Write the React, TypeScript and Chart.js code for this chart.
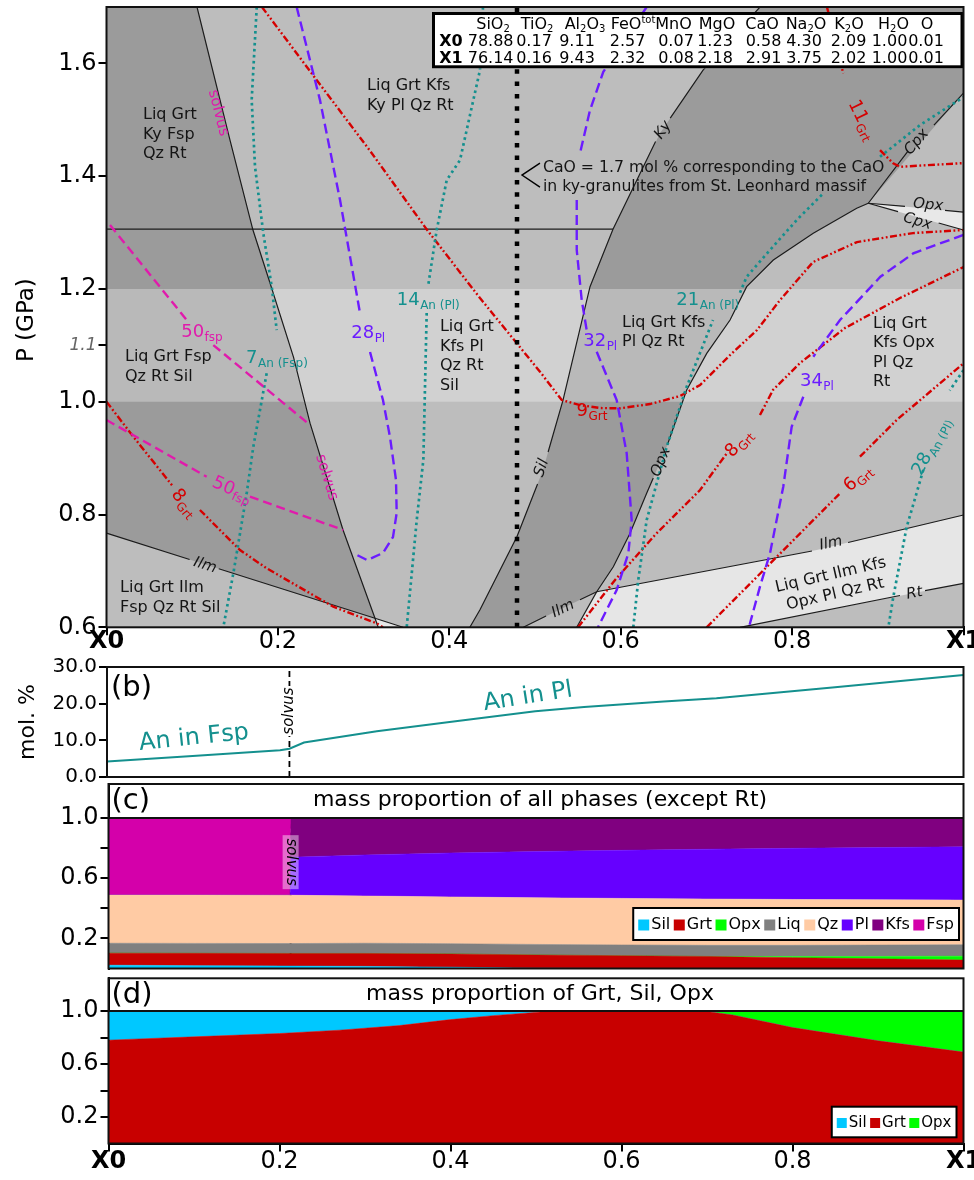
import React, { useEffect, useRef } from "react";
import { Chart, registerables } from "chart.js";

Chart.register(...registerables);

const FONT = "'DejaVu Sans', Verdana, sans-serif";
Chart.defaults.font.family = FONT;
Chart.defaults.color = "#000";

type Pt = [number, number] | null;

// ---------------- (a) P–X pseudosection: x = X0 → X1, y = P (GPa) ----------------
const pressureTicks = [0.6, 0.8, 1.0, 1.1, 1.2, 1.4, 1.6];
const compositionTicks = [0, 0.2, 0.4, 0.6, 0.8, 1];

// stability fields
const diagramField: Pt[] = [[0, 0.6], [1, 0.6], [1, 1.7], [0, 1.7]];
const fspFieldDark: Pt[] = [
  [0, 1.7], [0.1056, 1.7], [0.1441, 1.464], [0.1709, 1.3045], [0.1908, 1.2105],
  [0.2182, 1.079], [0.2375, 0.962], [0.276, 0.7725], [0.3133, 0.616], [0, 0.767],
];
const kySilFieldDark: Pt[] = [
  [0.7625, 1.7], [1, 1.7], [1, 1.5473], [0.8889, 1.352], [0.8754, 1.343], [0.8247, 1.2986],
  [0.7781, 1.2512], [0.747, 1.204], [0.7276, 1.1449], [0.7004, 1.0858], [0.677, 1.0208],
  [0.6537, 0.92], [0.6303, 0.8376], [0.6109, 0.7667], [0.5914, 0.7074], [0.572, 0.6631],
  [0.4864, 0.6], [0.424, 0.6], [0.4358, 0.631], [0.479, 0.761], [0.5093, 0.879],
  [0.5327, 1.003], [0.5642, 1.204], [0.591, 1.306], [0.6459, 1.476], [0.6961, 1.588],
];
const ilmOpxField: Pt[] = [
  [0.572, 0.6631], [0.8287, 0.737], [1, 0.7991], [1, 0.678], [0.7392, 0.6], [0.5487, 0.6],
];
const opxCpxField: Pt[] = [[0.8889, 1.352], [1, 1.3363], [1, 1.3045]];
const ilmNotchField: Pt[] = [[0.3133, 0.616], [0.346, 0.6], [0.317, 0.6]];
const pressureBand: Pt[] = [[0, 1.0], [1, 1.0], [1, 1.2], [0, 1.2]];

// field boundaries (null = break for a label)
const solvusLine: Pt[] = [
  [0.1056, 1.7], [0.1441, 1.464], [0.1709, 1.3045], [0.1908, 1.2105], [0.2182, 1.079],
  [0.2375, 0.962], [0.276, 0.7725], [0.3133, 0.616], [0.317, 0.6],
];
const ilmWestLine: Pt[] = [[0, 0.767], [0.097, 0.7203], null, [0.131, 0.7039], [0.3133, 0.616], [0.346, 0.6]];
const kySilTransition: Pt[] = [[0, 1.306], [0.591, 1.306]];
const kySilLine: Pt[] = [
  [0.7625, 1.7], [0.6961, 1.588], [0.6578, 1.503], null, [0.6407, 1.4613], [0.591, 1.306],
  [0.5642, 1.204], [0.5327, 1.003], [0.5153, 0.9109], null, [0.503, 0.8541], [0.479, 0.761],
  [0.4358, 0.631], [0.424, 0.6],
];
const opxLine: Pt[] = [
  [0.8889, 1.352], [0.8754, 1.343], [0.8247, 1.2986], [0.7781, 1.2512], [0.747, 1.204],
  [0.7276, 1.1449], [0.7004, 1.0858], [0.677, 1.0208], [0.6544, 0.9232], null, [0.638, 0.8647],
  [0.6303, 0.8376], [0.6109, 0.7667], [0.5914, 0.7074], [0.572, 0.6631],
];
const cpxLine: Pt[] = [[1, 1.5473], [0.9655, 1.4906], null, [0.9352, 1.4445], [0.8889, 1.352]];
const opxWedgeLine: Pt[] = [[0.8889, 1.352], [0.9317, 1.3466], null, [0.9784, 1.3394], [1, 1.3363]];
const cpxWedgeLine: Pt[] = [[0.8889, 1.352], [0.9236, 1.337], null, [0.971, 1.317], [1, 1.3045]];
const ilmEastLine: Pt[] = [
  [0.4864, 0.6], [0.5129, 0.62], null, [0.5525, 0.649], [0.572, 0.6631], [0.8232, 0.7353],
  null, [0.8653, 0.7504], [1, 0.7991],
];
const opxFootLine: Pt[] = [[0.5487, 0.6], [0.572, 0.6631]];
const rtLine: Pt[] = [[0.7392, 0.6], [0.9259, 0.6564], null, [0.9551, 0.6649], [1, 0.678]];

// isopleths
const fsp50Upper: Pt[] = [[0.0041, 1.3133], [0.0936, 1.1449], null, [0.1246, 1.1005], [0.2375, 0.9587]];
const fsp50Lower: Pt[] = [[0, 0.9676], [0.1169, 0.867], null, [0.1674, 0.8316], [0.2763, 0.7725]];
const an7: Pt[] = [
  [0.1753, 1.7], [0.1694, 1.5349], [0.1733, 1.4167], [0.183, 1.2986], [0.1928, 1.2039],
  [0.1986, 1.1271], null, [0.1869, 1.0504], [0.1713, 0.9202], [0.1636, 0.8376], [0.148, 0.6957], [0.1363, 0.6],
];
const an14: Pt[] = [
  [0.4393, 1.7], [0.4358, 1.5881], [0.4125, 1.4285], [0.397, 1.393], [0.3853, 1.3045],
  [0.3751, 1.2034], null, [0.3736, 1.1573], [0.3697, 0.8966], [0.362, 0.7902], [0.3503, 0.6],
];
const an21: Pt[] = [
  [0.6147, 0.6], [0.6205, 0.6839], [0.6303, 0.7902], [0.6537, 0.9202], [0.677, 1.0266],
  [0.7077, 1.1449], null, [0.7392, 1.1933], [0.747, 1.2216], [0.7742, 1.269], [0.8054, 1.3222],
  [0.8364, 1.3695], null, [0.9026, 1.4344], [0.9492, 1.4906], [1, 1.5402],
];
const an28: Pt[] = [[1, 1.056], [0.984, 1.02], null, [0.9531, 0.879], [0.9337, 0.778], [0.9181, 0.654], [0.9123, 0.6]];
const pl28: Pt[] = [
  [0.2219, 1.7], [0.2491, 1.5349], [0.2725, 1.3576], [0.2958, 1.1573], null, [0.3075, 1.0881],
  [0.3226, 1.003], [0.3308, 0.9374], [0.3378, 0.8612], [0.3386, 0.8027], [0.3343, 0.7601],
  [0.3226, 0.7317], [0.304, 0.7193], [0.2876, 0.7317],
];
const pl32: Pt[] = [
  [0.6303, 1.7], [0.5797, 1.585], [0.5642, 1.5172], [0.5525, 1.4404], null, [0.5487, 1.3576],
  [0.5487, 1.269], [0.5545, 1.1803], [0.5603, 1.1271], null, [0.572, 1.0887], [0.5953, 1.003],
  [0.607, 0.9085], [0.6128, 0.7902], [0.6089, 0.7312], [0.5953, 0.6661], [0.5758, 0.6071], [0.5735, 0.6],
];
const pl34: Pt[] = [
  [1, 1.296], [0.9414, 1.2631], [0.903, 1.2216], [0.8559, 1.1449], [0.8247, 1.0798], null,
  [0.8131, 1.0089], [0.7995, 0.9557], [0.7897, 0.8493], [0.7742, 0.7312], [0.7625, 0.672],
  [0.7509, 0.6071], [0.7497, 0.6],
];
const grt9: Pt[] = [
  [0.1814, 1.7], [0.2336, 1.594], [0.3075, 1.445], [0.3736, 1.3057], [0.4358, 1.1839],
  [0.5058, 1.0532], [0.5312, 1.003], [0.5525, 0.9941], [0.5758, 0.9888], [0.5992, 0.9883],
  [0.6342, 0.9959], [0.6692, 1.0101], [0.6926, 1.0296], [0.7276, 1.0828], [0.759, 1.1271],
  [0.7859, 1.1803], [0.8244, 1.2477], [0.8757, 1.2832], [0.9411, 1.2991], [1, 1.3045],
];
const grt8West: Pt[] = [
  [0, 1.0], [0.0313, 0.938], [0.078, 0.849], null, [0.109, 0.808], [0.1558, 0.737],
  [0.1869, 0.7046], [0.2647, 0.6365], [0.3153, 0.607], [0.3226, 0.6],
];
const grt8East: Pt[] = [
  [0.5502, 0.6], [0.5934, 0.6839], [0.64, 0.7637], [0.6926, 0.8435], [0.724, 0.909], null,
  [0.7625, 0.9764], [0.7777, 1.0208], [0.8092, 1.0686], [0.8617, 1.1307], [0.9259, 1.1839], [1, 1.2388],
];
const grt6: Pt[] = [[0.7003, 0.6], [0.8559, 0.8376], null, [0.8792, 0.9025], [0.922, 0.9676], [1, 1.068]];
const grt11: Pt[] = [
  [0.8407, 1.7], [0.8597, 1.5823], null, [0.9026, 1.4463], [0.918, 1.4227], [0.9259, 1.4167], [1, 1.4232],
];
const caoSection: Pt[] = [[0.479, 0.6], [0.479, 1.7]];
const caoPointer: Pt[] = [[0.5058, 1.4232], [0.4848, 1.402], [0.5058, 1.3807]];

// labels of panel (a)
const fieldNames = [
  { lines: ["Liq Grt", "Ky Fsp", "Qz Rt"], x: 0.0426, y: 1.5083 },
  { lines: ["Liq Grt Kfs", "Ky Pl Qz Rt"], x: 0.304, y: 1.56 },
  { lines: ["Liq Grt Fsp", "Qz Rt Sil"], x: 0.0216, y: 1.0793 },
  { lines: ["Liq Grt", "Kfs Pl", "Qz Rt", "Sil"], x: 0.3891, y: 1.1324 },
  { lines: ["Liq Grt Kfs", "Pl Qz Rt"], x: 0.6015, y: 1.1404 },
  { lines: ["Liq Grt", "Kfs Opx", "Pl Qz", "Rt"], x: 0.8944, y: 1.1387 },
  { lines: ["Liq Grt Ilm", "Fsp Qz Rt Sil"], x: 0.0158, y: 0.6697 },
];
const tiltedFieldName = { lines: ["Liq Grt Ilm Kfs", "Opx Pl Qz Rt"], x: 0.8477, y: 0.6755, rot: -13 };
const boundaryNames = [
  { t: "Ky", x: 0.6494, y: 1.4817, rot: -56 },
  { t: "Sil", x: 0.5078, y: 0.8825, rot: -71 },
  { t: "Opx", x: 0.647, y: 0.893, rot: -68 },
  { t: "Ilm", x: 0.1149, y: 0.7096, rot: 17.6 },
  { t: "Ilm", x: 0.5327, y: 0.6324, rot: -25.6 },
  { t: "Ilm", x: 0.8454, y: 0.7486, rot: -12 },
  { t: "Rt", x: 0.9428, y: 0.66, rot: -11 },
  { t: "Cpx", x: 0.9454, y: 1.4605, rot: -49 },
  { t: "Opx", x: 0.9586, y: 1.3488, rot: 5 },
  { t: "Cpx", x: 0.9463, y: 1.3195, rot: 16 },
];
const RED = "#d50000";
const PURPLE = "#6b1cff";
const TEAL = "#14908e";
const MAGENTA = "#e01bac";
const isoNames = [
  { main: "50", sub: "fsp", x: 0.1111, y: 1.1236, rot: 0, color: MAGENTA },
  { main: "50", sub: "fsp", x: 0.1461, y: 0.8434, rot: 24, color: MAGENTA },
  { main: "7", sub: "An (Fsp)", x: 0.1986, y: 1.0775, rot: 0, color: TEAL },
  { main: "28", sub: "Pl", x: 0.3051, y: 1.1218, rot: 0, color: PURPLE },
  { main: "14", sub: "An (Pl)", x: 0.3751, y: 1.1803, rot: 0, color: TEAL },
  { main: "32", sub: "Pl", x: 0.5758, y: 1.1064, rot: 0, color: PURPLE },
  { main: "21", sub: "An (Pl)", x: 0.7013, y: 1.1803, rot: 0, color: TEAL },
  { main: "9", sub: "Grt", x: 0.5662, y: 0.9823, rot: 0, color: RED },
  { main: "8", sub: "Grt", x: 0.738, y: 0.9259, rot: -48, color: RED },
  { main: "6", sub: "Grt", x: 0.8769, y: 0.8638, rot: -42, color: RED },
  { main: "34", sub: "Pl", x: 0.8287, y: 1.0358, rot: 0, color: PURPLE },
  { main: "28", sub: "An (Pl)", x: 0.9629, y: 0.9206, rot: -62, color: TEAL },
  { main: "11", sub: "Grt", x: 0.8812, y: 1.4995, rot: 64, color: RED },
  { main: "8", sub: "Grt", x: 0.0904, y: 0.8204, rot: 50, color: RED },
];
const solvusNames = [
  { x: 0.1305, y: 1.512, rot: 76 },
  { x: 0.2569, y: 0.8656, rot: 73 },
];
const caoNote = ["CaO = 1.7 mol % corresponding to the CaO", "in ky-granulites from St. Leonhard massif"];

// bulk compositions
const oxides = ["SiO_2", "TiO_2", "Al_2O_3", "FeO^tot", "MnO", "MgO", "CaO", "Na_2O", "K_2O", "H_2O", "O"];
const bulkX0 = [78.88, 0.17, 9.11, 2.57, 0.07, 1.23, 0.58, 4.3, 2.09, 1.0, 0.01];
const bulkX1 = [76.14, 0.16, 9.43, 2.32, 0.08, 2.18, 2.91, 3.75, 2.02, 1.0, 0.01];

// ---------------- (b) An content ----------------
const anX = [0, 0.1, 0.202, 0.213, 0.23, 0.315, 0.4, 0.5, 0.557, 0.65, 0.7115, 0.85, 1];
const anMol = [4.2, 5.7, 7.3, 7.7, 9.4, 12.5, 15.0, 17.9, 19.1, 20.6, 21.5, 24.5, 27.8];
const molTicks = [0, 5, 10, 15, 20, 25, 30];
const solvusX = 0.213;

// ---------------- (c) mass proportion of all phases ----------------
const phaseX = [0, 0.1, 0.2125, 0.2135, 0.3, 0.4, 0.5, 0.6, 0.7, 0.8, 0.9, 1];
const silAll = [0.022, 0.019, 0.016, 0.016, 0.014, 0.009, 0.002, 0, 0, 0, 0, 0];
const grtAll = [0.08, 0.082, 0.084, 0.084, 0.086, 0.088, 0.088, 0.085, 0.08, 0.072, 0.064, 0.056];
const opxAll = [0, 0, 0, 0, 0, 0, 0, 0, 0, 0.007, 0.016, 0.026];
const liqAll = [0.066, 0.066, 0.066, 0.066, 0.068, 0.068, 0.07, 0.072, 0.074, 0.075, 0.076, 0.076];
const qzAll = [0.32, 0.321, 0.321, 0.321, 0.314, 0.311, 0.31, 0.309, 0.308, 0.305, 0.301, 0.297];
const plAll = [0, 0, 0, 0.253, 0.273, 0.292, 0.308, 0.32, 0.331, 0.34, 0.347, 0.354];
const kfsAll = [0, 0, 0, 0.26, 0.245, 0.232, 0.222, 0.214, 0.207, 0.201, 0.196, 0.191];
const fspAll = [0.512, 0.512, 0.513, 0, 0, 0, 0, 0, 0, 0, 0, 0];
const fractionTicks = [0.2, 0.4, 0.6, 0.8, 1.0];
const fractionLabels = [0.2, 0.6, 1.0];

// ---------------- (d) mass proportion of Grt, Sil, Opx ----------------
const gsoX = [0, 0.1, 0.2, 0.27, 0.34, 0.4, 0.45, 0.52, 0.6, 0.695, 0.73, 0.8, 0.9, 1];
const grtRel = [0.78, 0.805, 0.83, 0.855, 0.89, 0.935, 0.965, 1, 1, 1, 0.97, 0.875, 0.775, 0.69];
const silRel = [0.22, 0.195, 0.17, 0.145, 0.11, 0.065, 0.035, 0, 0, 0, 0, 0, 0, 0];
const opxRel = [0, 0, 0, 0, 0, 0, 0, 0, 0, 0, 0.03, 0.125, 0.225, 0.31];

const PHASE_COLORS: Record<string, string> = {
  Sil: "#00c8ff", Grt: "#c80000", Opx: "#00ff00", Liq: "#808080",
  Qz: "#ffcba4", Pl: "#6600ff", Kfs: "#800080", Fsp: "#d400aa",
};

// ---------------- helpers ----------------
const mk = (pts: Pt[]) => pts.map((p) => (p ? { x: p[0], y: p[1] } : { x: null, y: null }));
const xy = (xs: number[], ys: number[]) => xs.map((x, i) => ({ x, y: ys[i] }));

const fieldDs = (pts: Pt[], color: string, order: number) => ({
  data: mk(pts), fill: "shape", backgroundColor: color, borderColor: "transparent",
  borderWidth: 0, pointRadius: 0, order,
});
const edgeDs = (pts: Pt[]) => ({
  data: mk(pts), fill: false, borderColor: "#1c1c1c", borderWidth: 1.2, pointRadius: 0, order: 5,
});
const isoDs = (pts: Pt[], color: string, dash: number[], width = 2.4) => ({
  data: mk(pts), fill: false, borderColor: color, borderWidth: width, borderDash: dash,
  borderCapStyle: "butt", pointRadius: 0, order: 3,
});

const deg = (d: number) => (d * Math.PI) / 180;

function rotatedText(ctx: any, text: string, x: number, y: number, rot: number, font: string, color: string) {
  ctx.save();
  ctx.translate(x, y);
  ctx.rotate(deg(rot));
  ctx.font = font;
  ctx.fillStyle = color;
  ctx.textAlign = "center";
  ctx.textBaseline = "middle";
  ctx.fillText(text, 0, 0);
  ctx.restore();
}

function isoText(ctx: any, x: number, y: number, main: string, sub: string, color: string, rot: number) {
  ctx.save();
  ctx.translate(x, y);
  ctx.rotate(deg(rot));
  ctx.fillStyle = color;
  ctx.textBaseline = "middle";
  ctx.textAlign = "left";
  ctx.font = `18px ${FONT}`;
  const w1 = ctx.measureText(main).width;
  ctx.font = `12px ${FONT}`;
  const w2 = ctx.measureText(sub).width;
  const start = -(w1 + w2) / 2;
  ctx.font = `18px ${FONT}`;
  ctx.fillText(main, start, 0);
  ctx.font = `12px ${FONT}`;
  ctx.fillText(sub, start + w1 + 0.5, 5.5);
  ctx.restore();
}

function chemParts(s: string) {
  const out: [string, number][] = [];
  const re = /_(\d+)|\^([a-z]+)|([^_^]+)/g;
  let m: any;
  while ((m = re.exec(s))) {
    if (m[1]) out.push([m[1], 1]);
    else if (m[2]) out.push([m[2], 2]);
    else out.push([m[3], 0]);
  }
  return out;
}

function chemText(ctx: any, s: string, cx: number, cy: number, size: number) {
  const parts = chemParts(s);
  const small = Math.round(size * 0.62);
  let total = 0;
  const widths = parts.map(([t, k]) => {
    ctx.font = `${k ? small : size}px ${FONT}`;
    const w = ctx.measureText(t).width;
    total += w;
    return w;
  });
  let x = cx - total / 2;
  parts.forEach(([t, k], i) => {
    ctx.font = `${k ? small : size}px ${FONT}`;
    ctx.fillText(t, x, cy + (k === 1 ? size * 0.3 : k === 2 ? -size * 0.3 : 0));
    x += widths[i];
  });
}

function drawLegend(ctx: any, names: string[], right: number, cy: number, size: number, sq: number, h: number) {
  ctx.save();
  ctx.font = `${size}px ${FONT}`;
  const gapSq = 2, gapItem = 3.5, pad = 5;
  let total = 0;
  const ws = names.map((n) => ctx.measureText(n).width);
  names.forEach((_, i) => (total += sq + gapSq + ws[i] + gapItem));
  total -= gapItem;
  const left = right - total - 2 * pad;
  ctx.fillStyle = "#fff";
  ctx.fillRect(left, cy - h / 2, total + 2 * pad, h);
  ctx.strokeStyle = "#000";
  ctx.lineWidth = 2;
  ctx.strokeRect(left, cy - h / 2, total + 2 * pad, h);
  let x = left + pad;
  ctx.textBaseline = "middle";
  ctx.textAlign = "left";
  names.forEach((n, i) => {
    ctx.fillStyle = PHASE_COLORS[n];
    ctx.fillRect(x, cy - sq / 2 + 1, sq, sq);
    x += sq + gapSq;
    ctx.fillStyle = "#000";
    ctx.fillText(n, x, cy + 1);
    x += ws[i] + gapItem;
  });
  ctx.restore();
}

function frame(ctx: any, a: any) {
  ctx.save();
  ctx.strokeStyle = "#111";
  ctx.lineWidth = 2;
  ctx.strokeRect(a.left, a.top, a.right - a.left, a.bottom - a.top);
  ctx.restore();
}

const axisBase = {
  grid: { drawOnChartArea: false, color: "#000", lineWidth: 2, tickLength: 8 },
  border: { color: "#000", width: 2 },
};

const xCompositionAxis = (height: number, padding: number) => ({
  type: "linear", min: 0, max: 1, ...axisBase,
  afterBuildTicks: (s: any) => { s.ticks = compositionTicks.map((v) => ({ value: v })); },
  afterFit: (s: any) => { s.height = height; s.paddingLeft = 0; s.paddingRight = 0; },
  ticks: {
    autoSkip: false, maxRotation: 0, minRotation: 0, padding, color: "#000",
    font: (c: any) => ({
      size: 24, family: FONT,
      weight: c.tick && (c.tick.value === 0 || c.tick.value === 1) ? "bold" : "normal",
    }),
    callback: (v: any) => (v === 0 ? "X0" : v === 1 ? "X1" : Number(v).toFixed(1)),
  },
});

const baseOptions = (padding: any) => ({
  animation: false, responsive: false, maintainAspectRatio: false,
  layout: { padding, autoPadding: false },
  plugins: { legend: { display: false }, tooltip: { enabled: false } },
  elements: { point: { radius: 0 }, line: { tension: 0 } },
});

// ---------------- panel (a) ----------------
function makePseudosection(canvas: HTMLCanvasElement) {
  const notes = {
    id: "pseudosectionNotes",
    afterDatasetsDraw(chart: any) {
      const { ctx, chartArea: a } = chart;
      const X = (v: number) => chart.scales.x.getPixelForValue(v);
      const Y = (v: number) => chart.scales.y.getPixelForValue(v);
      ctx.save();
      ctx.fillStyle = "#141414";
      ctx.font = `16px ${FONT}`;
      ctx.textBaseline = "middle";
      ctx.textAlign = "left";
      for (const f of fieldNames) f.lines.forEach((s, i) => ctx.fillText(s, X(f.x), Y(f.y) + i * 19.5));
      ctx.save();
      ctx.translate(X(tiltedFieldName.x), Y(tiltedFieldName.y));
      ctx.rotate(deg(tiltedFieldName.rot));
      ctx.textAlign = "center";
      tiltedFieldName.lines.forEach((s, i) => ctx.fillText(s, 0, (i - 0.5) * 19.5));
      ctx.restore();

      for (const b of boundaryNames) rotatedText(ctx, b.t, X(b.x), Y(b.y), b.rot, `italic 15px ${FONT}`, "#141414");
      for (const s of solvusNames) rotatedText(ctx, "solvus", X(s.x), Y(s.y), s.rot, `15px ${FONT}`, MAGENTA);
      for (const l of isoNames) isoText(ctx, X(l.x), Y(l.y), l.main, l.sub, l.color, l.rot);

      ctx.fillStyle = "#141414";
      ctx.font = `15.7px ${FONT}`;
      ctx.textAlign = "left";
      ctx.fillText(caoNote[0], X(0.5093), Y(1.4142));
      ctx.fillText(caoNote[1], X(0.5093), Y(1.381));

      // bulk composition table
      const tl = 432, tt = 12, tr = a.right, tb = 68.3;
      ctx.fillStyle = "#fff";
      ctx.fillRect(tl, tt, tr - tl, tb - tt);
      ctx.strokeStyle = "#000";
      ctx.lineWidth = 3;
      ctx.strokeRect(tl + 1.5, tt + 1.5, tr - tl - 3, tb - tt - 3);
      const headCx = [61, 105, 153, 201, 241.5, 285, 330, 374, 417, 461.5, 495];
      const valCx = [58.6, 102, 145, 195.6, 244, 283, 331.5, 372, 416.5, 457.5, 494];
      ctx.fillStyle = "#000";
      ctx.textBaseline = "middle";
      ctx.textAlign = "left";
      oxides.forEach((o, i) => chemText(ctx, o, tl + headCx[i], tt + 13, 16));
      ctx.textAlign = "center";
      ctx.font = `bold 16px ${FONT}`;
      ctx.fillText("X0", tl + 19, tt + 29.5);
      ctx.fillText("X1", tl + 19, tt + 46.5);
      ctx.font = `16px ${FONT}`;
      bulkX0.forEach((v, i) => ctx.fillText(v.toFixed(2), tl + valCx[i], tt + 29.5));
      bulkX1.forEach((v, i) => ctx.fillText(v.toFixed(2), tl + valCx[i], tt + 46.5));

      frame(ctx, a);

      ctx.translate(27, (a.top + a.bottom) / 2 + 3);
      ctx.rotate(-Math.PI / 2);
      ctx.font = `23px ${FONT}`;
      ctx.fillStyle = "#000";
      ctx.textAlign = "center";
      ctx.fillText("P (GPa)", 0, 0);
      ctx.restore();
    },
  };

  const redDash = [7, 2.5, 1.8, 2.5, 1.8, 2.5];
  const dotted = [2.6, 3.4];
  const datasets: any[] = [
    fieldDs(diagramField, "#bdbdbd", 40),
    fieldDs(fspFieldDark, "#9b9b9b", 39),
    fieldDs(kySilFieldDark, "#9b9b9b", 38),
    fieldDs(ilmOpxField, "#e6e6e6", 37),
    fieldDs(opxCpxField, "#e8e8e8", 36),
    fieldDs(ilmNotchField, "#e6e6e6", 35),
    fieldDs(pressureBand, "rgba(255,255,255,0.3)", 30),
    edgeDs(solvusLine), edgeDs(ilmWestLine), edgeDs(kySilTransition), edgeDs(kySilLine),
    edgeDs(opxLine), edgeDs(cpxLine), edgeDs(opxWedgeLine), edgeDs(cpxWedgeLine),
    edgeDs(ilmEastLine), edgeDs(opxFootLine), edgeDs(rtLine),
    isoDs(fsp50Upper, MAGENTA, [9, 5]), isoDs(fsp50Lower, MAGENTA, [9, 5]),
    isoDs(an7, TEAL, dotted, 2.7), isoDs(an14, TEAL, dotted, 2.7), isoDs(an21, TEAL, dotted, 2.7), isoDs(an28, TEAL, dotted, 2.7),
    isoDs(pl28, PURPLE, [10, 5]), isoDs(pl32, PURPLE, [10, 5]), isoDs(pl34, PURPLE, [10, 5]),
    isoDs(grt9, RED, redDash, 2.4), isoDs(grt8West, RED, redDash, 2.4), isoDs(grt8East, RED, redDash, 2.4),
    isoDs(grt6, RED, redDash, 2.4), isoDs(grt11, RED, redDash, 2.4),
    { data: mk(caoSection), fill: false, borderColor: "#000", borderWidth: 4.5, borderDash: [4.5, 7.8], pointRadius: 0, order: 1 },
    { data: mk(caoPointer), fill: false, borderColor: "#000", borderWidth: 1.4, pointRadius: 0, order: 1 },
  ];

  return new Chart(canvas, {
    type: "line",
    data: { datasets },
    options: {
      ...baseOptions({ left: 0, right: 10.5, top: 7, bottom: 0 }),
      scales: {
        x: xCompositionAxis(40.7, -8),
        y: {
          type: "linear", min: 0.6, max: 1.7, ...axisBase,
          afterBuildTicks: (s: any) => { s.ticks = pressureTicks.map((v) => ({ value: v })); },
          afterFit: (s: any) => { s.width = 106.5; s.paddingTop = 0; s.paddingBottom = 0; },
          ticks: {
            padding: 2,
            color: (c: any) => (c.tick && c.tick.value === 1.1 ? "#666" : "#000"),
            font: (c: any) =>
              c.tick && c.tick.value === 1.1
                ? { size: 17, style: "italic", family: FONT }
                : { size: 24, family: FONT },
            callback: (v: any) => Number(v).toFixed(1),
          },
        },
      },
    } as any,
    plugins: [notes],
  } as any);
}

// ---------------- panel (b) ----------------
function makeAnorthite(canvas: HTMLCanvasElement) {
  const notes = {
    id: "anorthiteNotes",
    afterDatasetsDraw(chart: any) {
      const { ctx, chartArea: a } = chart;
      const X = (v: number) => chart.scales.x.getPixelForValue(v);
      const Y = (v: number) => chart.scales.y.getPixelForValue(v);
      ctx.save();
      // solvus label over the guide
      const sx = X(solvusX), sy = Y(18);
      ctx.fillStyle = "#fff";
      ctx.fillRect(sx - 8, sy - 25, 16, 50);
      rotatedText(ctx, "solvus", sx, sy, -90, `italic 15px ${FONT}`, "#000");
      rotatedText(ctx, "An in Fsp", X(0.1016), Y(10.6), -6, `24px ${FONT}`, TEAL);
      rotatedText(ctx, "An in Pl", X(0.4915), Y(21.8), -9, `24px ${FONT}`, TEAL);
      ctx.font = `29px ${FONT}`;
      ctx.fillStyle = "#000";
      ctx.textAlign = "left";
      ctx.textBaseline = "middle";
      ctx.fillText("(b)", a.left + 4, a.top + 21);
      frame(ctx, a);
      rotatedText(ctx, "mol. %", 28, (a.top + a.bottom) / 2, -90, `22px ${FONT}`, "#000");
      ctx.restore();
    },
  };
  return new Chart(canvas, {
    type: "line",
    data: {
      datasets: [
        { data: xy(anX, anMol), borderColor: TEAL, borderWidth: 2, fill: false, pointRadius: 0 },
        {
          data: [{ x: solvusX, y: 0 }, { x: solvusX, y: 30 }], borderColor: "#000",
          borderWidth: 1.8, borderDash: [6, 4], fill: false, pointRadius: 0,
        },
      ],
    },
    options: {
      ...baseOptions({ left: 0, right: 10.5, top: 12, bottom: 13 }),
      scales: {
        x: { type: "linear", min: 0, max: 1, display: false },
        y: {
          type: "linear", min: 0, max: 30, ...axisBase,
          afterBuildTicks: (s: any) => { s.ticks = molTicks.map((v) => ({ value: v })); },
          afterFit: (s: any) => { s.width = 107; s.paddingTop = 0; s.paddingBottom = 0; },
          ticks: {
            padding: 2, color: "#000", font: { size: 20, family: FONT },
            callback: (v: any) => (Number(v) % 10 === 0 ? Number(v).toFixed(1) : ""),
          },
        },
      },
    } as any,
    plugins: [notes],
  } as any);
}

// ---------------- panels (c) and (d) ----------------
const fractionAxis = (max: number) => ({
  type: "linear", min: 0, max, stacked: true, ...axisBase,
  afterBuildTicks: (s: any) => { s.ticks = fractionTicks.map((v) => ({ value: v })); },
  afterFit: (s: any) => { s.width = 108.5; s.paddingTop = 0; s.paddingBottom = 0; },
  ticks: {
    padding: 2, color: "#000", font: { size: 24, family: FONT },
    callback: (v: any) => (fractionLabels.some((l) => Math.abs(l - Number(v)) < 1e-6) ? Number(v).toFixed(1) : ""),
  },
});

const areaDs = (name: string, xs: number[], ys: number[], first: boolean) => ({
  label: name, data: xy(xs, ys), fill: first ? "origin" : "-1",
  backgroundColor: PHASE_COLORS[name], borderColor: PHASE_COLORS[name], borderWidth: 0.5,
  pointRadius: 0, stack: "phases",
});

function panelTitle(ctx: any, a: any, tag: string, title: string, Y: (v: number) => number) {
  ctx.save();
  ctx.fillStyle = "#000";
  ctx.textBaseline = "middle";
  ctx.textAlign = "left";
  ctx.font = `29px ${FONT}`;
  ctx.fillText(tag, a.left + 3, a.top + 17);
  ctx.textAlign = "center";
  ctx.font = `22px ${FONT}`;
  ctx.fillText(title, 540, a.top + 16);
  ctx.strokeStyle = "#111";
  ctx.lineWidth = 2;
  ctx.beginPath();
  ctx.moveTo(a.left, Y(1));
  ctx.lineTo(a.right, Y(1));
  ctx.stroke();
  ctx.restore();
}

function makeAllPhases(canvas: HTMLCanvasElement) {
  const notes = {
    id: "allPhasesNotes",
    afterDatasetsDraw(chart: any) {
      const { ctx, chartArea: a } = chart;
      const X = (v: number) => chart.scales.x.getPixelForValue(v);
      const Y = (v: number) => chart.scales.y.getPixelForValue(v);
      panelTitle(ctx, a, "(c)", "mass proportion of all phases (except Rt)", Y);
      const sx = X(solvusX), sy = Y(0.707);
      ctx.save();
      ctx.fillStyle = "rgba(255,255,255,0.42)";
      ctx.fillRect(sx - 8, sy - 27, 16, 54);
      ctx.restore();
      rotatedText(ctx, "solvus", sx, sy, 90, `italic 15px ${FONT}`, "#000");
      drawLegend(ctx, ["Sil", "Grt", "Opx", "Liq", "Qz", "Pl", "Kfs", "Fsp"], a.right - 4.5, a.bottom - 44.5, 16, 11, 32);
      frame(ctx, a);
    },
  };
  return new Chart(canvas, {
    type: "line",
    data: {
      datasets: [
        areaDs("Sil", phaseX, silAll, true),
        areaDs("Grt", phaseX, grtAll, false),
        areaDs("Opx", phaseX, opxAll, false),
        areaDs("Liq", phaseX, liqAll, false),
        areaDs("Qz", phaseX, qzAll, false),
        areaDs("Pl", phaseX, plAll, false),
        areaDs("Kfs", phaseX, kfsAll, false),
        areaDs("Fsp", phaseX, fspAll, false),
        {
          data: [{ x: solvusX, y: 0 }, { x: solvusX, y: 1 }], stack: "guide", fill: false,
          borderColor: "#000", borderWidth: 2, borderDash: [6, 4], pointRadius: 0,
        },
      ],
    },
    options: {
      ...baseOptions({ left: 0, right: 10.5, top: 4, bottom: 4.5 }),
      scales: {
        x: { type: "linear", min: 0, max: 1, display: false },
        y: fractionAxis(1.2267),
      },
    } as any,
    plugins: [notes],
  } as any);
}

function makeGrtSilOpx(canvas: HTMLCanvasElement) {
  const notes = {
    id: "grtSilOpxNotes",
    afterDatasetsDraw(chart: any) {
      const { ctx, chartArea: a } = chart;
      const Y = (v: number) => chart.scales.y.getPixelForValue(v);
      panelTitle(ctx, a, "(d)", "mass proportion of Grt, Sil, Opx", Y);
      drawLegend(ctx, ["Sil", "Grt", "Opx"], a.right - 7, a.bottom - 21.5, 15, 10, 30.6);
      frame(ctx, a);
    },
  };
  return new Chart(canvas, {
    type: "line",
    data: {
      datasets: [
        areaDs("Grt", gsoX, grtRel, true),
        areaDs("Sil", gsoX, silRel, false),
        areaDs("Opx", gsoX, opxRel, false),
      ],
    },
    options: {
      ...baseOptions({ left: 0, right: 10.5, top: 6.3, bottom: 0 }),
      scales: {
        x: xCompositionAxis(36.5, -4),
        y: fractionAxis(1.2468),
      },
    } as any,
    plugins: [notes],
  } as any);
}

export default function App() {
  const refA = useRef<HTMLCanvasElement>(null);
  const refB = useRef<HTMLCanvasElement>(null);
  const refC = useRef<HTMLCanvasElement>(null);
  const refD = useRef<HTMLCanvasElement>(null);

  useEffect(() => {
    const charts = [
      makePseudosection(refA.current!),
      makeAnorthite(refB.current!),
      makeAllPhases(refC.current!),
      makeGrtSilOpx(refD.current!),
    ];
    return () => charts.forEach((c) => c.destroy());
  }, []);

  const place = (top: number, height: number): React.CSSProperties => ({
    position: "absolute", left: 0, top, width: 974, height,
  });

  return (
    <div style={{ position: "absolute", left: 0, top: 0, width: 974, height: 1180, background: "#fff", overflow: "hidden" }}>
      <canvas ref={refA} width={974} height={668} style={place(0, 668)} />
      <canvas ref={refB} width={974} height={135} style={place(655, 135)} />
      <canvas ref={refC} width={974} height={193} style={place(780, 193)} />
      <canvas ref={refD} width={974} height={208} style={place(972, 208)} />
    </div>
  );
}
